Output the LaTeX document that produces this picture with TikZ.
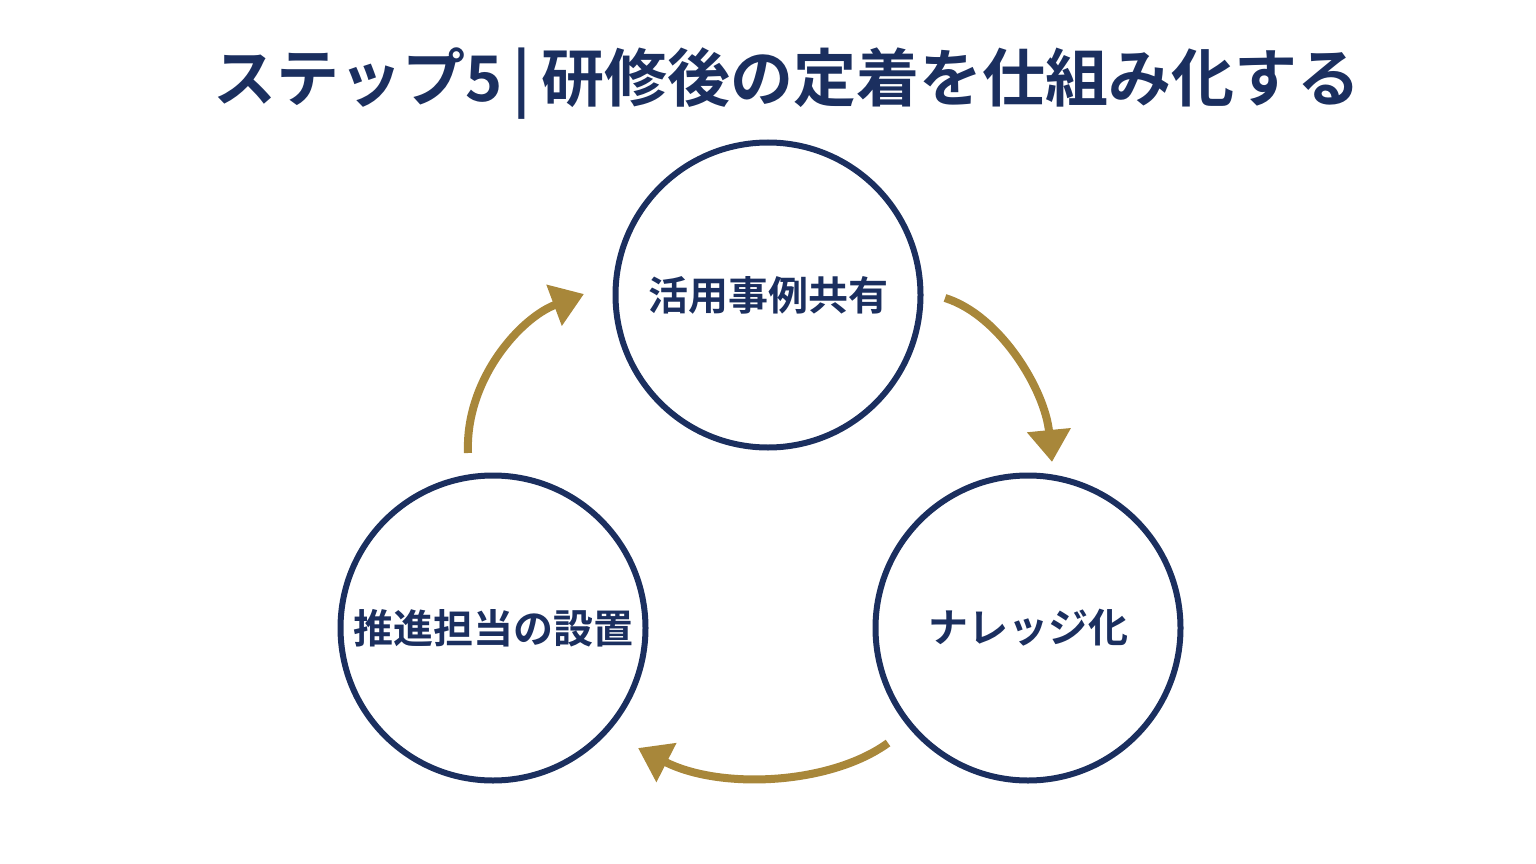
\documentclass[tikz,border=0pt]{standalone}
\usepackage{fontspec}
\setmainfont{Noto Sans CJK JP}[BoldFont={* Bold}]
\usetikzlibrary{arrows.meta}
\definecolor{navycolor}{HTML}{1b2f5f}
\definecolor{goldcolor}{HTML}{a8873a}
\tikzset{
  stage/.style={draw=navycolor, line width=6pt, circle, minimum size=305pt, text=navycolor, font=\bfseries\fontsize{40}{46}\selectfont},
  loop arrow/.style={-{Triangle[width=42pt,length=32pt]}, line width=8pt, color=goldcolor}
}
\begin{document}
\begin{tikzpicture}[x=1pt,y=1pt]
        \useasboundingbox (0,0) rectangle (1536,-864);
        % Title
        \node [text=navycolor, font=\bfseries\fontsize{63}{70}\selectfont] (title) at (787, -84) {ステップ5\,|\,研修後の定着を仕組み化する};

        % Nodes
        \node [stage] (share) at (768, -295) {活用事例共有};
        \node [stage] (know) at (1028, -628) {ナレッジ化};
        \node [stage] (lead) at (493, -628) {推進担当の設置};

        % Arrow ends
        \coordinate (s1) at (945, -298);
        \coordinate (e1) at (1052, -462);
        \coordinate (s2) at (888, -743);
        \coordinate (e2) at (638, -748);
        \coordinate (s3) at (468, -453);
        \coordinate (e3) at (584, -294);

        % Draw the links
        \draw [loop arrow] (s1) .. controls (1000, -315) and (1045, -390) .. (e1);
        \draw [loop arrow] (s2) .. controls (830, -785) and (720, -790) .. (e2);
        \draw [loop arrow] (s3) .. controls (465, -380) and (520, -318) .. (e3);
\end{tikzpicture}
\end{document}
